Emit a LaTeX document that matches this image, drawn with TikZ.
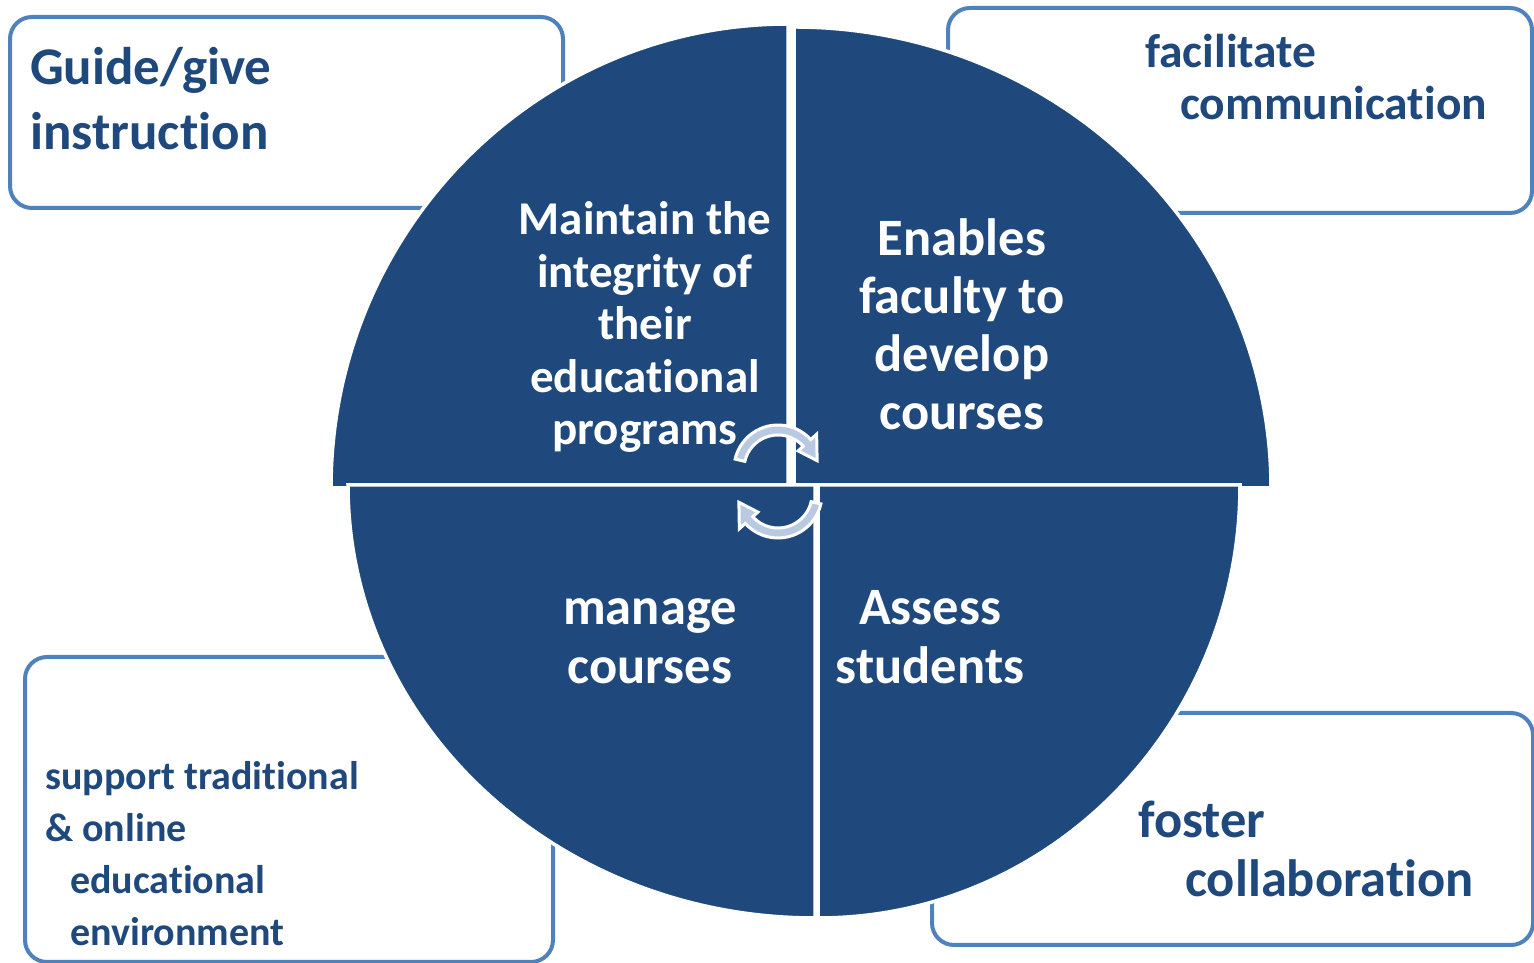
\documentclass[tikz,border=0pt]{standalone}
\usepackage{fontspec}
\setmainfont{Carlito}[Ligatures=NoCommon]
\usetikzlibrary{calc}
\definecolor{quadcolor}{RGB}{31,73,125}
\definecolor{boxcolor}{RGB}{79,129,189}
\definecolor{arrowcolor}{RGB}{185,201,226}
\tikzset{
	outbox/.style={
		draw=boxcolor,
		line width=4pt,
		fill=white,
		rounded corners=22pt
	},
	quad/.style={
		fill=quadcolor,
		draw=white,
		line width=3.5pt
	},
	cyclearrow/.style={
		fill=arrowcolor,
		draw=white,
		line width=3pt
	},
	quadtext/.style={
		text=white,
		align=center,
		anchor=base,
		inner sep=0pt
	},
	boxtext/.style={
		text=quadcolor,
		align=left,
		anchor=base west,
		inner sep=0pt
	},
}

\begin{document}
\begin{tikzpicture}[x=1pt,y=1pt]
\useasboundingbox (0,0) rectangle (1534,963);
% outer boxes
\draw[outbox] (10,946) rectangle (563,755);
\draw[outbox] (948,955) rectangle (1532,750);
\draw[outbox] (25,306) rectangle (553,1);
\draw[outbox] (932,250) rectangle (1533,18);
% quadrants
\coordinate (tlc) at (788,475);
\coordinate (trc) at (794,475);
\coordinate (blc) at (815,478);
\coordinate (brc) at (818,478);
\draw[quad] (tlc) -- ++(-457,0) arc[start angle=180,end angle=90,x radius=457,y radius=464] -- cycle;
\draw[quad] (trc) -- ++(0,461) arc[start angle=90,end angle=0,x radius=477,y radius=461] -- cycle;
\draw[quad] (blc) -- ++(0,-433) arc[start angle=270,end angle=180,x radius=467,y radius=433] -- cycle;
\draw[quad] (brc) -- ++(422,0) arc[start angle=0,end angle=-90,x radius=422,y radius=433] -- cycle;
% texts (placed at the baseline of their last line)
\node[boxtext,font=\fontsize{53}{65}\selectfont\bfseries] (guide) at (30,813) {Guide/give\\instruction};
\node[boxtext,font=\fontsize{47.5}{52}\selectfont\bfseries] (facil) at (1145,843) {facilitate\\\hspace*{35pt}communication};
\node[boxtext,font=\fontsize{40}{52}\selectfont\bfseries] (support) at (45,17) {support traditional\\\& online\\\hspace*{25pt}educational\\\hspace*{25pt}environment};
\node[boxtext,font=\fontsize{52.5}{59}\selectfont\bfseries] (foster) at (1138,66) {foster\\\hspace*{47pt}collaboration};
\node[quadtext,font=\fontsize{47}{52.5}\selectfont\bfseries] (maintain) at (645,518) {Maintain the\\integrity of\\their\\educational\\programs};
\node[quadtext,font=\fontsize{52.5}{58}\selectfont\bfseries] (enables) at (962,533) {Enables\\faculty to\\develop\\courses};
\node[quadtext,font=\fontsize{52.5}{59}\selectfont\bfseries] (manage) at (650,279) {manage\\courses};
\node[quadtext,font=\fontsize{52.5}{59}\selectfont\bfseries] (assess) at (930,279) {Assess\\students};
% cycle arrows
\coordinate (c1) at (778,494);
\coordinate (c2) at (778,469);
\draw[cyclearrow] ($(c1)+(167:34)$) arc[start angle=167,end angle=42,radius=34]
	-- ($(c1)+(42:27)$) -- ($(c1)+(12:40)$) -- ($(c1)+(42:52)$) -- ($(c1)+(42:44)$)
	arc[start angle=42,end angle=167,radius=44] -- cycle;
\draw[cyclearrow] ($(c2)+(-13:34)$) arc[start angle=-13,end angle=-138,radius=34]
	-- ($(c2)+(-138:27)$) -- ($(c2)+(-168:40)$) -- ($(c2)+(-138:52)$) -- ($(c2)+(-138:44)$)
	arc[start angle=-138,end angle=-13,radius=44] -- cycle;
\end{tikzpicture}
\end{document}
